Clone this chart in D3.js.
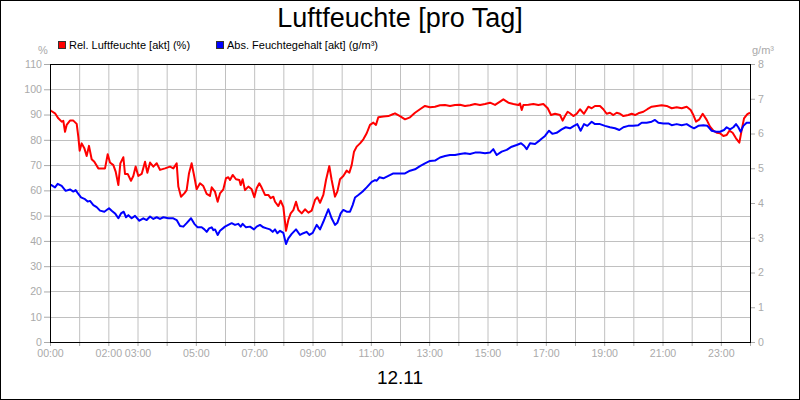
<!DOCTYPE html>
<html>
<head>
<meta charset="utf-8">
<script src="https://cdn.jsdelivr.net/npm/d3@7"></script>
<style>
  body { margin: 0; background: #fff; }
  svg { display: block; font-family: "Liberation Sans", Arial, sans-serif; }
</style>
</head>
<body>
<div id="chart"></div>
<script>
// minutes since midnight
const relTime = [0, 2, 10.3, 17.1, 24, 27.4, 30.9, 34.3, 41.1, 48, 54.9, 58.3, 61, 65.2, 70.6, 75.4, 80.2, 85.7, 91.2, 99.4,
  113.2, 118.7, 123.4, 130.3, 135.1, 140.6, 144.7, 150.9, 154.3, 159.8, 166.6, 171.4, 176.2, 181.7, 188.6, 195.5, 200.3,
  205.8, 212.6, 219.5, 226.3, 236.6, 246.9, 253.7, 260.6, 264, 269.5, 276.3, 281.1, 286, 291.4, 296.9, 301.7, 308.6,
  315.4, 322.3, 329.1, 332.6, 339.4, 344.9,
  349.7, 356.6, 362, 366.8, 370.3, 375.8, 382.6, 389.5, 392.2, 396.3, 401.1, 408, 414.9, 420.3, 425.1, 430.6, 435.4,
  442.3, 449.1, 453.9, 459.4, 462.9, 469.7, 474.5, 480, 485.5, 490.3, 495.1, 500.6, 506.1, 510.9, 517.8, 524.6, 531.5,
  538.3, 545.2, 550, 555.5, 562.3, 567.8, 574.6, 579.4, 586.3, 591.1, 596.6, 603.4, 610.3, 615.8, 620.6, 625.4, 630.9,
  637.8, 644.6, 651.5, 658.3, 665.2, 670.6, 675.4, 685.8, 696.1, 706.4,
  709.7, 720, 730.3, 740.6, 750.9, 761.1, 771.4, 781.7, 792, 802.3, 812.6, 822.9, 833.2, 843.5, 853.7, 864, 874.3,
  884.6, 894.9, 905.2, 915.5, 925.8, 932.6, 942.9, 953.2, 963.5, 966.9, 970.4, 973.8, 984.1, 994.4, 1004.7, 1014.9,
  1023.9, 1030.7, 1038.9, 1049.2, 1054.6, 1059.5, 1064.9,
  1069.7, 1076.6, 1083.4, 1090.3, 1098.5, 1107.4, 1114.3, 1121.1, 1131.4, 1138.3, 1145.1, 1152, 1158.9, 1165.7, 1172.6,
  1179.5, 1189.7, 1196.6, 1203.5, 1210.3, 1220.6, 1228.8, 1237.8, 1248, 1258.3, 1268.6, 1278.9, 1289.2, 1299.5, 1309.8,
  1318, 1323.5, 1329, 1335.9, 1342.7, 1350.9, 1357.8, 1364.6, 1371.5, 1378.3, 1385.2, 1392, 1397.5, 1404.3, 1411.2,
  1418.1, 1422.9, 1427.7, 1434.5, 1440];
const relValue = [91.8, 91.5, 90.5, 88.5, 87.2, 87.5, 83.2, 85.9, 87.6, 87.6, 86.3, 81.2, 75.7, 78.6, 76.7, 73.6, 77.6, 72.3, 71.3, 68.7,
  68.7, 74.3, 71.0, 70.0, 67.4, 62.1, 70.7, 73.1, 66.5, 66.5, 63.8, 65.7, 69.4, 65.7, 66.5, 71.3, 67.0,
  71.0, 69.4, 70.7, 68.1, 68.7, 69.4, 68.7, 70.7, 61.5, 57.5, 58.8, 60.1, 66.8, 70.7, 65.4, 60.4, 62.8,
  61.7, 58.6, 57.8, 61.2, 59.5, 55.5,
  58.8, 60.4, 64.8, 65.2, 64.1, 66.1, 64.4, 64.1, 62.1, 64.4, 60.1, 61.5, 60.4, 57.3, 60.8, 62.8, 61.1,
  58.2, 58.2, 56.9, 57.5, 55.5, 53.8, 55.9, 53.5, 44.0, 48.3, 50.9, 52.2, 55.5, 52.2, 50.9, 52.5, 51.2,
  52.0, 56.2, 57.3, 55.1, 58.2, 64.1, 69.6, 64.1, 57.5, 59.5, 64.4, 65.7, 67.8, 67.0, 70.0, 75.3, 77.3,
  78.6, 80.2, 82.6, 85.9, 86.8, 85.9, 88.9, 89.2, 89.4, 90.2,
  90.5, 89.4, 88.1, 88.9, 90.7, 92.1, 93.4, 92.9, 93.1, 93.7, 93.8, 93.4, 93.8, 93.9, 93.4, 93.7, 94.2,
  93.8, 94.2, 94.7, 93.8, 95.1, 96.0, 94.7, 94.2, 93.8, 94.4, 91.8, 93.8, 93.9, 94.2, 93.8, 94.2,
  92.5, 89.8, 90.3, 89.8, 87.6, 89.4, 91.1,
  90.5, 89.4, 90.3, 92.1, 90.3, 93.1, 92.5, 93.4, 93.4, 92.1, 90.3, 90.7, 89.8, 90.7, 90.3,
  89.4, 89.8, 90.3, 89.8, 90.5, 91.1, 92.1, 93.1, 93.4, 93.7, 93.4, 92.5, 92.9, 92.5, 93.1,
  91.8, 89.8, 87.2, 88.1, 90.3, 87.9, 85.2, 83.6, 82.8, 82.6, 81.5, 81.9, 83.6, 82.8, 80.6,
  78.9, 83.9, 88.5, 90.2, 90.7];

const absTime = [0, 2, 10.3, 15.8, 24, 32.2, 41.1, 48, 52.8, 58.3, 63.8, 72, 77.5, 82.3, 89.2, 96, 102.9, 111.8, 116.6, 121.4,
  126.9, 133.8, 140.6, 146.1, 151.6, 156.4, 161.2, 168, 174.9, 183.8, 192, 198.9, 205.8, 212.6, 219.5, 226.3, 233.2,
  243.5, 253.7, 260.6, 267.5, 274.3, 281.1, 290.1, 296.9, 303.8, 312, 317.6, 322.4, 327.2, 332.6, 336.1, 339.5, 345,
  349.7, 360, 366.8, 373.7, 380.6, 387.4, 392.2, 396.3, 403.2, 411.4, 419.6, 425.1, 432, 438.9, 445.7, 452.6, 458.1,
  462.9, 467.7, 473.2, 480, 485.5, 490.3, 497.2, 506.1, 514.3, 521.2, 528, 533.5, 540.4, 548.6, 555.5, 562.3, 567.8,
  572.6, 579.4, 586.3, 591.1, 598, 603.4, 610.3, 617.2, 622.6, 627.5, 634.3, 643.2, 651.5, 661.8, 668.6, 672.1, 677.6,
  685.8, 696.1, 706.4,
  709.7, 730.3, 740.6, 750.9, 761.1, 771.4, 781.7, 792, 802.3, 812.6, 822.9, 833.2, 843.5, 853.7, 864, 874.3, 884.6,
  894.9, 905.2, 912, 918.9, 929.2, 939.5, 949.8, 960, 969, 975.8, 980.6, 987.5, 997.8, 1008, 1018.3, 1026.6, 1033.4,
  1042.3, 1052.6, 1060.9,
  1069.7, 1077.9, 1084.8, 1091.6, 1098.5, 1105.4, 1114.3, 1121.1, 1131.4, 1141.7, 1152, 1162.3, 1171.2, 1179.5, 1189.7,
  1200, 1210.3, 1217.2, 1227.4, 1237.7, 1244.6, 1251.5, 1261.7, 1272, 1278.9, 1289.2, 1299.5, 1309.8, 1318, 1324.8,
  1333.7, 1344, 1352.3, 1361.2, 1370.1, 1378.3, 1386.6, 1392, 1398.9, 1405.8, 1411.2, 1416, 1420.8, 1426.3, 1433.1, 1440];
const absValue = [4.50, 4.52, 4.45, 4.55, 4.49, 4.35, 4.39, 4.33, 4.37, 4.26, 4.16, 4.11, 4.04, 4.06, 3.94, 3.88, 3.78, 3.75, 3.80, 3.85,
  3.78, 3.70, 3.56, 3.70, 3.75, 3.59, 3.65, 3.56, 3.63, 3.49, 3.56, 3.51, 3.61, 3.54, 3.59, 3.54, 3.59,
  3.56, 3.56, 3.51, 3.34, 3.32, 3.42, 3.56, 3.40, 3.30, 3.30, 3.24, 3.17, 3.27, 3.30, 3.22, 3.24, 3.08,
  3.20, 3.32, 3.37, 3.42, 3.37, 3.40, 3.32, 3.40, 3.30, 3.32, 3.24, 3.32, 3.37, 3.30, 3.27, 3.24, 3.17,
  3.24, 3.13, 3.20, 3.14, 2.82, 2.98, 3.11, 3.24, 3.08, 3.13, 3.17, 3.08, 3.14, 3.37, 3.24, 3.46, 3.65,
  3.82, 3.56, 3.37, 3.43, 3.70, 3.80, 3.75, 3.75, 3.94, 4.16, 4.23, 4.33, 4.45, 4.61, 4.66, 4.64, 4.74,
  4.71, 4.78, 4.85,
  4.85, 4.85, 4.93, 4.97, 5.06, 5.14, 5.21, 5.22, 5.31, 5.35, 5.38, 5.38, 5.41, 5.43, 5.41, 5.45, 5.45,
  5.43, 5.45, 5.55, 5.38, 5.48, 5.53, 5.62, 5.67, 5.72, 5.64, 5.55, 5.72, 5.70, 5.81, 5.93, 6.08, 5.99,
  6.02, 6.12, 6.18,
  6.15, 6.22, 6.27, 6.08, 6.27, 6.22, 6.34, 6.27, 6.27, 6.22, 6.18, 6.15, 6.10, 6.18, 6.22,
  6.22, 6.24, 6.31, 6.31, 6.34, 6.39, 6.31, 6.29, 6.29, 6.24, 6.27, 6.24, 6.27, 6.20, 6.15,
  6.22, 6.24, 6.22, 6.08, 6.05, 6.05, 6.10, 6.18, 6.12, 6.18, 6.27, 6.18, 6.05, 6.22, 6.31, 6.31];

// axis labels
const hourLabels = ['00:00', '02:00', '03:00', '05:00', '07:00', '09:00', '11:00', '13:00', '15:00', '17:00', '19:00', '21:00', '23:00'];
const leftTicks = [0, 10, 20, 30, 40, 50, 60, 70, 80, 90, 100, 110];
const rightTicks = [0, 1, 2, 3, 4, 5, 6, 7, 8];

const W = 800, H = 400;
const plot = { left: 50, right: 750, top: 64, bottom: 342 };
const tickColor = '#aaaaaa';
const gridColor = '#c0c0c0';

const svg = d3.select('#chart').append('svg')
  .attr('width', W)
  .attr('height', H);

svg.append('rect')
  .attr('x', 0.5).attr('y', 0.5)
  .attr('width', W - 1).attr('height', H - 1)
  .attr('fill', '#fff')
  .attr('stroke', '#000');

const x = d3.scaleLinear().domain([0, 1440]).range([plot.left, plot.right]);
const yL = d3.scaleLinear().domain([0, 110]).range([plot.bottom, plot.top]);
const yR = d3.scaleLinear().domain([0, 8]).range([plot.bottom, plot.top]);

// grid
const hours = d3.range(0, 25).map(h => h * 60);
svg.append('g').selectAll('line')
  .data(hours.slice(1, -1))
  .join('line')
  .attr('x1', d => x(d) + 0.5).attr('x2', d => x(d) + 0.5)
  .attr('y1', plot.top).attr('y2', plot.bottom)
  .attr('stroke', gridColor);
svg.append('g').selectAll('line')
  .data(leftTicks.slice(1, -1))
  .join('line')
  .attr('x1', plot.left).attr('x2', plot.right)
  .attr('y1', d => Math.round(yL(d)) + 0.5).attr('y2', d => Math.round(yL(d)) + 0.5)
  .attr('stroke', gridColor);

// axes
function styleAxis(g) {
  g.select('.domain').remove();
  g.selectAll('line').attr('stroke', tickColor);
  g.selectAll('text').attr('fill', tickColor).attr('font-size', '10.6px')
    .attr('font-family', '"Liberation Sans", Arial, sans-serif');
}

const labelled = new Set(hourLabels);
const fmtHour = m => {
  const s = String(m / 60).padStart(2, '0') + ':00';
  return labelled.has(s) ? s : '';
};

svg.append('g')
  .attr('transform', `translate(0,${plot.bottom})`)
  .call(d3.axisBottom(x).tickValues(hours).tickFormat(fmtHour).tickSize(4).tickPadding(3))
  .call(styleAxis);

svg.append('g')
  .attr('transform', `translate(${plot.left},0)`)
  .call(d3.axisLeft(yL).tickValues(leftTicks).tickSize(6).tickPadding(2))
  .call(styleAxis);

svg.append('g')
  .attr('transform', `translate(${plot.right},0)`)
  .call(d3.axisRight(yR).tickValues(rightTicks).tickSize(5).tickPadding(3))
  .call(styleAxis);

// lines
const relLine = d3.line()
  .x((d, i) => x(relTime[i]))
  .y(d => yL(d));
const absLine = d3.line()
  .x((d, i) => x(absTime[i]))
  .y(d => yR(d));

svg.append('clipPath').attr('id', 'clip')
  .append('rect')
  .attr('x', plot.left).attr('y', plot.top)
  .attr('width', plot.right - plot.left).attr('height', plot.bottom - plot.top);

const lines = svg.append('g').attr('clip-path', 'url(#clip)');
lines.append('path')
  .attr('d', relLine(relValue))
  .attr('fill', 'none')
  .attr('stroke', '#ff0000')
  .attr('stroke-width', 2)
  .attr('stroke-linejoin', 'round');
lines.append('path')
  .attr('d', absLine(absValue))
  .attr('fill', 'none')
  .attr('stroke', '#0000ff')
  .attr('stroke-width', 2)
  .attr('stroke-linejoin', 'round');

// plot frame
svg.append('rect')
  .attr('x', plot.left + 0.5).attr('y', plot.top + 0.5)
  .attr('width', plot.right - plot.left).attr('height', plot.bottom - plot.top)
  .attr('fill', 'none')
  .attr('stroke', '#000');

// title and texts
svg.append('text')
  .attr('x', 400).attr('y', 27)
  .attr('text-anchor', 'middle')
  .attr('font-size', '27px')
  .attr('fill', '#000')
  .text('Luftfeuchte [pro Tag]');

svg.append('text')
  .attr('x', 400).attr('y', 384)
  .attr('text-anchor', 'middle')
  .attr('font-size', '19px')
  .attr('fill', '#000')
  .text('12.11');

svg.append('text')
  .attr('x', 43).attr('y', 54)
  .attr('text-anchor', 'middle')
  .attr('font-size', '11px')
  .attr('fill', tickColor)
  .text('%');

svg.append('text')
  .attr('x', 763).attr('y', 54)
  .attr('text-anchor', 'middle')
  .attr('font-size', '11px')
  .attr('fill', tickColor)
  .text('g/m³');

// legend
const legendItems = [
  { label: 'Rel. Luftfeuchte [akt] (%)', color: '#ff0000', x: 58 },
  { label: 'Abs. Feuchtegehalt [akt] (g/m³)', color: '#0000ff', x: 216 }
];
const legend = svg.append('g').selectAll('g')
  .data(legendItems)
  .join('g')
  .attr('transform', d => `translate(${d.x},41)`);
legend.append('rect')
  .attr('x', 0.5).attr('y', 0.5)
  .attr('width', 7).attr('height', 7)
  .attr('fill', d => d.color)
  .attr('stroke', '#333');
legend.append('text')
  .attr('x', 11).attr('y', 8)
  .attr('font-size', '11px')
  .attr('fill', '#000')
  .text(d => d.label);
</script>
</body>
</html>
